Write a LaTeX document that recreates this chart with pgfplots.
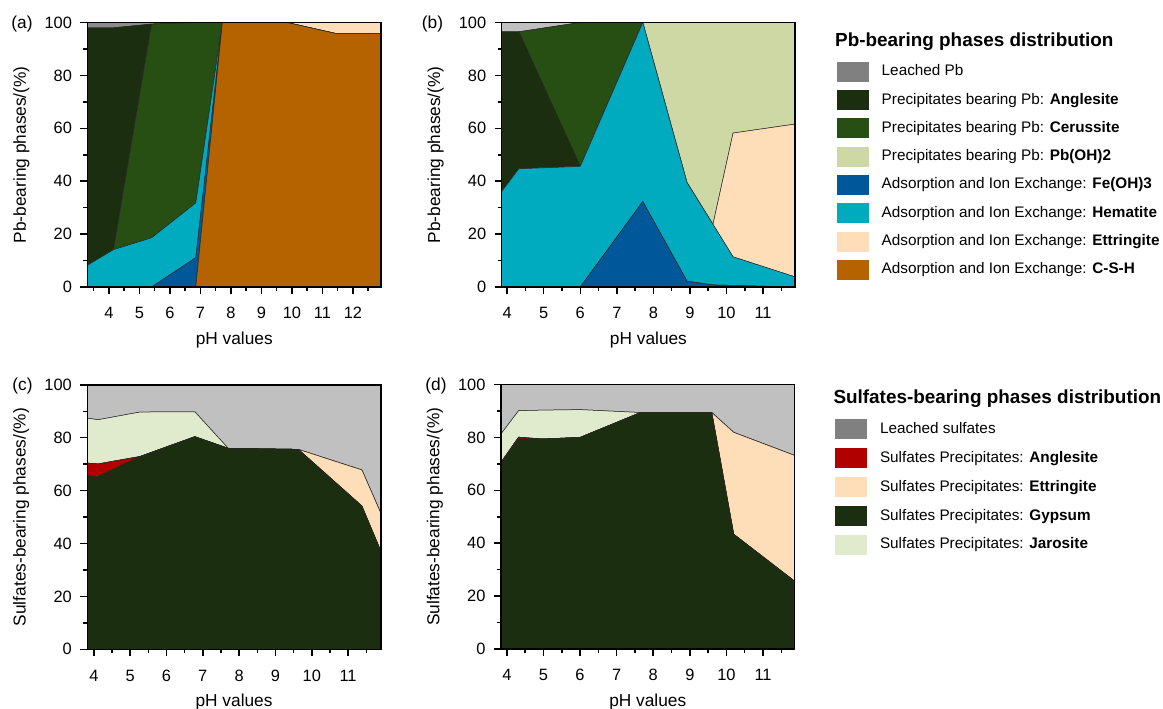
\documentclass[border=0pt]{standalone}
\usepackage{pgfplots}
\pgfplotsset{compat=1.18}
\usetikzlibrary{calc}
\usepackage{fontspec}
\setmainfont{Liberation Sans}
\definecolor{leachL}{RGB}{128,128,128}
\definecolor{leachA}{RGB}{140,140,140}
\definecolor{leach}{RGB}{192,192,192}
\definecolor{angl}{RGB}{28,46,16}
\definecolor{ceru}{RGB}{39,79,20}
\definecolor{pboh}{RGB}{205,216,164}
\definecolor{feoh}{RGB}{0,87,154}
\definecolor{hema}{RGB}{0,171,192}
\definecolor{ettr}{RGB}{254,221,185}
\definecolor{csh}{RGB}{181,98,0}
\definecolor{sang}{RGB}{176,0,0}
\definecolor{gyps}{RGB}{28,46,16}
\definecolor{jaro}{RGB}{224,235,205}
% x ticks inside the axis: #1 major, #2 minor positions
\newcommand\xticksat[2]{%
  \foreach \x in {#1} {\draw[black, line width=1.5pt] (axis cs:\x,0) -- ++(0pt,-7pt);}
  \foreach \x in {#2} {\draw[black, line width=1.5pt] (axis cs:\x,0) -- ++(0pt,-4pt);}
}
% frame and y ticks after the axis, from its anchors
\newcommand\framefor[1]{%
  \draw[black, line width=1.5pt] (#1.south west) rectangle (#1.north east);
  \foreach \k in {0,2,4,6,8,10} {\draw[black, line width=1.5pt] ($(#1.south west)!\k/10!(#1.north west)$) -- ++(-7pt,0pt);}
  \foreach \k in {1,3,5,7,9} {\draw[black, line width=1.5pt] ($(#1.south west)!\k/10!(#1.north west)$) -- ++(-4pt,0pt);}
}
\pgfplotsset{
  panel/.style={
    scale only axis, width=293.5pt, height=264.5pt,
    ymin=0, ymax=100, ytick={0,20,...,100}, minor y tick num=1, minor x tick num=1,
    stack plots=y, axis on top,
    tick align=outside, xtick pos=bottom, ytick pos=left,
    axis line style={draw=black, line width=1.5pt},
    tick style={draw=black, line width=1.5pt},
    major tick length=7pt, minor tick length=4pt,
    tick label style={font=\fontsize{16.4}{19}\selectfont},
    xticklabel style={yshift=-10pt},
    yticklabel style={xshift=-5pt},
    /pgf/number format/assume math mode=true,
    label style={font=\fontsize{17.3}{20}\selectfont},
    xlabel={pH values},
    xlabel style={at={(axis description cs:0.5,-0.2)}, anchor=center},
    ylabel style={at={(axis description cs:-0.225,0.5)}, anchor=center},
  },
  ar/.style={draw=black!85, line width=0.5pt},
}
\begin{document}
\begin{tikzpicture}
% (a)
\begin{axis}[panel, name=pa, at={(87.5pt,-287pt)}, anchor=south west, xmin=3.3, xmax=12.92, xtick={4,...,12},
  ylabel={Pb-bearing phases/(\%)},
  extra description/.code={\xticksat{4,5,6,7,8,9,10,11,12}{3.5,4.5,5.5,6.5,7.5,8.5,9.5,10.5,11.5,12.5}}]
\addplot[ar, fill=csh] coordinates {(3.3,0) (4.15,0) (5.4,0) (6.85,0) (7.72,100) (9.84,100) (11.42,95.9) (12.92,95.9)} \closedcycle;
\addplot[ar, fill=feoh] coordinates {(3.3,0) (4.15,0) (5.4,0) (6.85,11.1) (7.72,0) (9.84,0) (11.42,0) (12.92,0)} \closedcycle;
\addplot[ar, fill=hema] coordinates {(3.3,8.2) (4.15,14.1) (5.4,18.6) (6.85,20.7) (7.72,0) (9.84,0) (11.42,0) (12.92,0)} \closedcycle;
\addplot[ar, fill=ettr] coordinates {(3.3,0) (4.15,0) (5.4,0) (6.85,0) (7.72,0) (9.84,0) (11.42,4.1) (12.92,4.1)} \closedcycle;
\addplot[ar, fill=ceru] coordinates {(3.3,0) (4.15,0) (5.4,80.8) (6.85,68.2) (7.72,0) (9.84,0) (11.42,0) (12.92,0)} \closedcycle;
\addplot[ar, fill=angl] coordinates {(3.3,89.8) (4.15,83.9) (5.4,0) (6.85,0) (7.72,0) (9.84,0) (11.42,0) (12.92,0)} \closedcycle;
\addplot[ar, fill=leachA] coordinates {(3.3,2.0) (4.15,2.0) (5.4,0.6) (6.85,0) (7.72,0) (9.84,0) (11.42,0) (12.92,0)} \closedcycle;
\end{axis}
\framefor{pa}
% (b)
\begin{axis}[panel, name=pb, at={(501.7pt,-287pt)}, anchor=south west, xmin=3.85, xmax=11.88, xtick={4,...,11},
  ylabel={Pb-bearing phases/(\%)},
  extra description/.code={\xticksat{4,5,6,7,8,9,10,11}{4.5,5.5,6.5,7.5,8.5,9.5,10.5,11.5}},
  legend image code/.code={\fill[#1] (0pt,-10pt) rectangle (32pt,10pt);},
  legend style={at={(axis description cs:1.1415,0.8518)}, anchor=north west, draw=none, fill=none, inner sep=0pt, outer sep=0pt, row sep=8.3pt, column sep=11pt, font=\fontsize{15.3}{18}\selectfont, nodes={inner sep=2pt, text height=12pt, text depth=4pt}},
  legend cell align=left]
\addlegendimage{fill=leachL, draw=none}\addlegendentry{Leached Pb}
\addlegendimage{fill=angl, draw=none}\addlegendentry{Precipitates bearing Pb: \textbf{Anglesite}}
\addlegendimage{fill=ceru, draw=none}\addlegendentry{Precipitates bearing Pb: \textbf{Cerussite}}
\addlegendimage{fill=pboh, draw=none}\addlegendentry{Precipitates bearing Pb: \textbf{Pb(OH)2}}
\addlegendimage{fill=feoh, draw=none}\addlegendentry{Adsorption and Ion Exchange: \textbf{Fe(OH)3}}
\addlegendimage{fill=hema, draw=none}\addlegendentry{Adsorption and Ion Exchange: \textbf{Hematite}}
\addlegendimage{fill=ettr, draw=none}\addlegendentry{Adsorption and Ion Exchange: \textbf{Ettringite}}
\addlegendimage{fill=csh, draw=none}\addlegendentry{Adsorption and Ion Exchange: \textbf{C-S-H}}
\addplot[ar, fill=feoh] coordinates {(3.85,0) (4.32,0) (6.0,0) (7.71,32.3) (8.92,2.2) (9.63,0.8) (10.18,0.6) (11.88,0)} \closedcycle;
\addplot[ar, fill=hema] coordinates {(3.85,36.1) (4.32,44.7) (6.0,45.6) (7.71,67.7) (8.92,37.3) (9.63,22.9) (10.18,10.8) (11.88,3.8)} \closedcycle;
\addplot[ar, fill=ettr] coordinates {(3.85,0) (4.32,0) (6.0,0) (7.71,0) (8.92,0) (9.63,0) (10.18,46.8) (11.88,57.8)} \closedcycle;
\addplot[ar, fill=pboh] coordinates {(3.85,0) (4.32,0) (6.0,0) (7.71,0) (8.92,60.5) (9.63,76.3) (10.18,41.8) (11.88,38.4)} \closedcycle;
\addplot[ar, fill=angl] coordinates {(3.85,60.4) (4.32,51.8) (6.0,0) (7.71,0) (8.92,0) (9.63,0) (10.18,0) (11.88,0)} \closedcycle;
\addplot[ar, fill=ceru] coordinates {(3.85,0) (4.32,0) (6.0,54.4) (7.71,0) (8.92,0) (9.63,0) (10.18,0) (11.88,0)} \closedcycle;
\addplot[ar, fill=leach] coordinates {(3.85,3.5) (4.32,3.5) (6.0,0) (7.71,0) (8.92,0) (9.63,0) (10.18,0) (11.88,0)} \closedcycle;
\end{axis}
\framefor{pb}
% (c)
\begin{axis}[panel, name=pc, at={(87.3pt,-649.3pt)}, anchor=south west, xmin=3.82, xmax=11.9, xtick={4,...,11},
  ylabel={Sulfates-bearing phases/(\%)},
  extra description/.code={\xticksat{4,5,6,7,8,9,10,11}{4.5,5.5,6.5,7.5,8.5,9.5,10.5,11.5}}]
\addplot[ar, fill=gyps] coordinates {(3.82,65.6) (4.12,65.3) (5.27,72.9) (6.78,80.4) (7.7,76) (9.63,75.6) (11.38,54.2) (11.9,37.2)} \closedcycle;
\addplot[ar, fill=sang] coordinates {(3.82,4.8) (4.12,4.8) (5.27,0) (6.78,0) (7.7,0) (9.63,0) (11.38,0) (11.9,0)} \closedcycle;
\addplot[ar, fill=ettr] coordinates {(3.82,0) (4.12,0) (5.27,0) (6.78,0) (7.7,0) (9.63,0) (11.38,13.6) (11.9,14.3)} \closedcycle;
\addplot[ar, fill=jaro] coordinates {(3.82,17.0) (4.12,16.7) (5.27,16.8) (6.78,9.4) (7.7,0) (9.63,0) (11.38,0) (11.9,0)} \closedcycle;
\addplot[ar, fill=leach] coordinates {(3.82,12.6) (4.12,13.2) (5.27,10.3) (6.78,10.2) (7.7,24) (9.63,24.4) (11.38,32.2) (11.9,48.5)} \closedcycle;
\end{axis}
\framefor{pc}
% (d)
\begin{axis}[panel, name=pd, at={(501pt,-649pt)}, anchor=south west, xmin=3.84, xmax=11.86, xtick={4,...,11},
  ylabel={Sulfates-bearing phases/(\%)},
  extra description/.code={\xticksat{4,5,6,7,8,9,10,11}{4.5,5.5,6.5,7.5,8.5,9.5,10.5,11.5}},
  legend image code/.code={\fill[#1] (0pt,-10pt) rectangle (32pt,10pt);},
  legend style={at={(axis description cs:1.138,0.8684)}, anchor=north west, draw=none, fill=none, inner sep=0pt, outer sep=0pt, row sep=8.9pt, column sep=11pt, font=\fontsize{15.3}{18}\selectfont, nodes={inner sep=2pt, text height=12pt, text depth=4pt}},
  legend cell align=left]
\addlegendimage{fill=leachL, draw=none}\addlegendentry{Leached sulfates}
\addlegendimage{fill=sang, draw=none}\addlegendentry{Sulfates Precipitates: \textbf{Anglesite}}
\addlegendimage{fill=ettr, draw=none}\addlegendentry{Sulfates Precipitates: \textbf{Ettringite}}
\addlegendimage{fill=gyps, draw=none}\addlegendentry{Sulfates Precipitates: \textbf{Gypsum}}
\addlegendimage{fill=jaro, draw=none}\addlegendentry{Sulfates Precipitates: \textbf{Jarosite}}
\addplot[ar, fill=gyps] coordinates {(3.84,70) (4.32,79.4) (4.96,79.4) (6.0,80) (7.65,89.4) (9.6,89.4) (10.2,43.4) (11.86,25.7)} \closedcycle;
\addplot[ar, fill=sang] coordinates {(3.84,0.6) (4.32,0.7) (4.96,0) (6.0,0) (7.65,0) (9.6,0) (10.2,0) (11.86,0)} \closedcycle;
\addplot[ar, fill=ettr] coordinates {(3.84,0) (4.32,0) (4.96,0) (6.0,0) (7.65,0) (9.6,0) (10.2,38.5) (11.86,47.5)} \closedcycle;
\addplot[ar, fill=jaro] coordinates {(3.84,10.7) (4.32,10.0) (4.96,10.9) (6.0,10.5) (7.65,0) (9.6,0) (10.2,0) (11.86,0)} \closedcycle;
\addplot[ar, fill=leach] coordinates {(3.84,18.7) (4.32,9.9) (4.96,9.7) (6.0,9.5) (7.65,10.6) (9.6,10.6) (10.2,18.1) (11.86,26.8)} \closedcycle;
\end{axis}
\framefor{pd}
\node[anchor=center, font=\fontsize{17.3}{20}\selectfont] at (22pt,-24.5pt) {(a)};
\node[anchor=center, font=\fontsize{17.3}{20}\selectfont] at (432.5pt,-24.5pt) {(b)};
\node[anchor=center, font=\fontsize{17.3}{20}\selectfont] at (22.5pt,-386.5pt) {(c)};
\node[anchor=center, font=\fontsize{17.3}{20}\selectfont] at (436pt,-386pt) {(d)};
\node[anchor=base west, inner sep=0pt, font=\fontsize{18.9}{22}\selectfont\bfseries] at (835pt,-46.8pt) {Pb-bearing phases distribution};
\node[anchor=base west, inner sep=0pt, font=\fontsize{18.9}{22}\selectfont\bfseries] at (833.3pt,-403.8pt) {Sulfates-bearing phases distribution};
\pgfresetboundingbox
\path[use as bounding box] (0,0) rectangle (1163pt,-709pt);
\end{tikzpicture}
\end{document}
